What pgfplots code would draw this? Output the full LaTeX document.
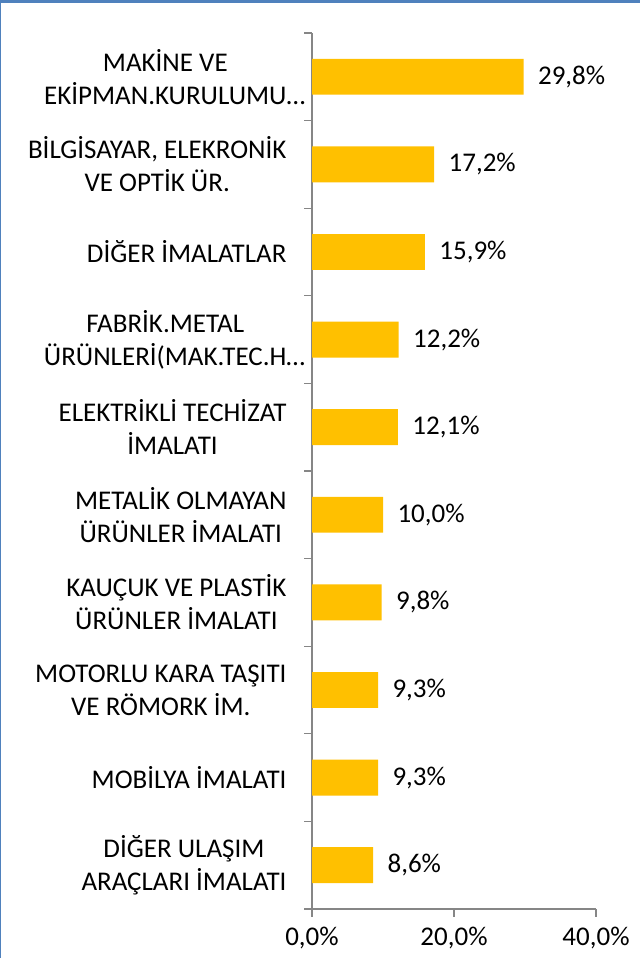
\documentclass[border=0pt]{standalone}
\usepackage{pgfplots}
\pgfplotsset{compat=1.18}
\usepackage{fontspec}
\setmainfont{Carlito}
\definecolor{barc}{HTML}{FFC000}
\definecolor{axc}{HTML}{868686}
\definecolor{frame}{HTML}{4F81BD}
\begin{document}
\begin{tikzpicture}[x=1bp,y=1bp]
\useasboundingbox (0,0) rectangle (640,958);
\fill[white] (0,0) rectangle (640,958);
\begin{axis}[
  at={(312bp,49bp)}, anchor=south west,
  scale only axis, width=284bp, height=876bp,
  xbar, bar width=0.41,
  xmin=0, xmax=40, ymin=-0.5, ymax=9.5,
  axis x line*=bottom, axis y line*=left,
  axis line style={axc, line width=1.3bp},
  xtick={0,20,40},
  xticklabels={{0,0\%},{20,0\%},{40,0\%}},
  ytick={-0.5,0.5,...,9.5},
  yticklabels={},
  tick style={axc, line width=1.3bp},
  tick align=outside,
  major tick length=8bp,
  extra y ticks={0,...,9},
  extra y tick labels={{DİĞER ULAŞIM\\ARAÇLARI İMALATI},{MOBİLYA İMALATI},{MOTORLU KARA TAŞITI\\VE RÖMORK İM.},{KAUÇUK VE PLASTİK\\ÜRÜNLER İMALATI},{METALİK OLMAYAN\\ÜRÜNLER İMALATI},{ELEKTRİKLİ TECHİZAT\\İMALATI},{FABRİK.METAL\\ÜRÜNLERİ(MAK.TEC.H\rlap{…}},{DİĞER İMALATLAR},{BİLGİSAYAR, ELEKRONİK\\VE OPTİK ÜR.},{MAKİNE VE\\EKİPMAN.KURULUMU\rlap{…}}},
  extra y tick style={major tick length=0bp, yticklabel style={align=center, font=\fontsize{27bp}{33bp}\selectfont, text=black, xshift=-22bp}},
  xticklabel style={font=\fontsize{27bp}{32bp}\selectfont, text=black, yshift=-7bp},
  nodes near coords={\pgfmathprintnumber[fixed,fixed zerofill,precision=1,use comma,assume math mode=true]{\pgfplotspointmeta}\%},
  nodes near coords style={font=\fontsize{27bp}{32bp}\selectfont, text=black, anchor=west, xshift=11bp},
  clip=false,
]
\addplot[fill=barc, draw=none] coordinates {
(8.6,0) (9.3,1) (9.3,2) (9.8,3) (10.0,4) (12.1,5) (12.2,6) (15.9,7) (17.2,8) (29.8,9)};
\end{axis}
\fill[frame] (0,955) rectangle (640,958);
\fill[frame] (0,0) rectangle (1.5,958);
\end{tikzpicture}
\end{document}
